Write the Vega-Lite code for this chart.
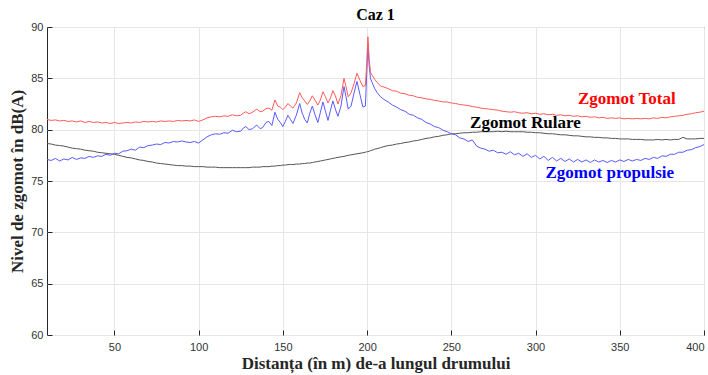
{
  "$schema": "https://vega.github.io/schema/vega-lite/v6.json",
  "width": 657,
  "height": 308,
  "autosize": {"type": "none"},
  "padding": {"left": 47, "top": 27, "right": 4, "bottom": 40},
  "background": "white",
  "config": {
    "view": {"stroke": "#262626", "strokeWidth": 1},
    "axis": {
      "gridColor": "#e6e6e6", "gridWidth": 1, "domain": false,
      "labelFont": "Liberation Sans", "labelFontSize": 11, "labelColor": "#333333",
      "tickColor": "#262626", "tickSize": -5,
      "titleFont": "Liberation Serif", "titleFontSize": 17, "titleFontWeight": "bold", "titleColor": "#262626"
    }
  },
  "title": {"text": "Caz 1", "font": "Liberation Serif", "fontSize": 16, "fontWeight": "bold", "color": "#000000", "offset": -2},
  "datasets": {
    "curves": [
      {"x": 10, "total": 81.0, "rulare": 78.65, "propulsie": 77.1},
      {"x": 12.5, "total": 80.9, "rulare": 78.6, "propulsie": 77.0},
      {"x": 15, "total": 80.95, "rulare": 78.5, "propulsie": 77.2},
      {"x": 17.5, "total": 80.85, "rulare": 78.45, "propulsie": 76.95},
      {"x": 20, "total": 80.9, "rulare": 78.4, "propulsie": 77.15},
      {"x": 22.5, "total": 80.8, "rulare": 78.3, "propulsie": 77.05},
      {"x": 25, "total": 80.85, "rulare": 78.2, "propulsie": 77.3},
      {"x": 27.5, "total": 80.75, "rulare": 78.15, "propulsie": 77.1},
      {"x": 30, "total": 80.85, "rulare": 78.1, "propulsie": 77.25},
      {"x": 32.5, "total": 80.7, "rulare": 78.0, "propulsie": 77.2},
      {"x": 35, "total": 80.8, "rulare": 77.95, "propulsie": 77.4},
      {"x": 37.5, "total": 80.7, "rulare": 77.9, "propulsie": 77.3},
      {"x": 40, "total": 80.75, "rulare": 77.8, "propulsie": 77.45},
      {"x": 42.5, "total": 80.65, "rulare": 77.75, "propulsie": 77.4},
      {"x": 45, "total": 80.7, "rulare": 77.7, "propulsie": 77.6},
      {"x": 47.5, "total": 80.6, "rulare": 77.65, "propulsie": 77.5},
      {"x": 50, "total": 80.7, "rulare": 77.6, "propulsie": 77.7},
      {"x": 52.5, "total": 80.6, "rulare": 77.5, "propulsie": 77.65},
      {"x": 55, "total": 80.65, "rulare": 77.4, "propulsie": 77.9},
      {"x": 57.5, "total": 80.7, "rulare": 77.3, "propulsie": 77.95},
      {"x": 60, "total": 80.65, "rulare": 77.25, "propulsie": 78.1},
      {"x": 62.5, "total": 80.75, "rulare": 77.15, "propulsie": 78.0},
      {"x": 65, "total": 80.7, "rulare": 77.05, "propulsie": 78.3},
      {"x": 67.5, "total": 80.8, "rulare": 77.0, "propulsie": 78.25},
      {"x": 70, "total": 80.75, "rulare": 76.9, "propulsie": 78.45},
      {"x": 72.5, "total": 80.8, "rulare": 76.85, "propulsie": 78.5},
      {"x": 75, "total": 80.75, "rulare": 76.75, "propulsie": 78.6},
      {"x": 77.5, "total": 80.85, "rulare": 76.7, "propulsie": 78.55},
      {"x": 80, "total": 80.8, "rulare": 76.65, "propulsie": 78.75},
      {"x": 82.5, "total": 80.85, "rulare": 76.6, "propulsie": 78.7},
      {"x": 85, "total": 80.8, "rulare": 76.55, "propulsie": 78.85},
      {"x": 87.5, "total": 80.9, "rulare": 76.5, "propulsie": 78.8},
      {"x": 90, "total": 80.85, "rulare": 76.5, "propulsie": 78.9},
      {"x": 92.5, "total": 80.9, "rulare": 76.45, "propulsie": 78.8},
      {"x": 95, "total": 80.85, "rulare": 76.45, "propulsie": 78.75},
      {"x": 97.5, "total": 80.95, "rulare": 76.4, "propulsie": 78.85},
      {"x": 100, "total": 80.8, "rulare": 76.4, "propulsie": 78.7},
      {"x": 102.5, "total": 80.95, "rulare": 76.4, "propulsie": 79.0},
      {"x": 105, "total": 81.15, "rulare": 76.35, "propulsie": 79.3},
      {"x": 107.5, "total": 81.25, "rulare": 76.35, "propulsie": 79.5},
      {"x": 110, "total": 81.3, "rulare": 76.35, "propulsie": 79.6},
      {"x": 112.5, "total": 81.25, "rulare": 76.3, "propulsie": 79.55},
      {"x": 115, "total": 81.35, "rulare": 76.3, "propulsie": 79.7},
      {"x": 117.5, "total": 81.3, "rulare": 76.3, "propulsie": 79.65},
      {"x": 120, "total": 81.45, "rulare": 76.3, "propulsie": 79.95},
      {"x": 122.5, "total": 81.35, "rulare": 76.3, "propulsie": 79.8},
      {"x": 125, "total": 81.4, "rulare": 76.3, "propulsie": 79.85},
      {"x": 126.5, "total": 81.6, "rulare": 76.3, "propulsie": 80.15},
      {"x": 128, "total": 81.75, "rulare": 76.3, "propulsie": 80.3},
      {"x": 130, "total": 81.55, "rulare": 76.3, "propulsie": 80.0},
      {"x": 132, "total": 81.7, "rulare": 76.35, "propulsie": 80.1},
      {"x": 134.5, "total": 82.0, "rulare": 76.35, "propulsie": 80.45},
      {"x": 136.5, "total": 81.75, "rulare": 76.35, "propulsie": 80.1},
      {"x": 138, "total": 81.8, "rulare": 76.4, "propulsie": 80.2},
      {"x": 140, "total": 82.05, "rulare": 76.4, "propulsie": 80.7},
      {"x": 141.7, "total": 82.1, "rulare": 76.4, "propulsie": 80.8},
      {"x": 143.5, "total": 81.9, "rulare": 76.45, "propulsie": 80.4},
      {"x": 145.3, "total": 82.9, "rulare": 76.45, "propulsie": 81.7},
      {"x": 147, "total": 82.3, "rulare": 76.5, "propulsie": 81.0},
      {"x": 148.5, "total": 82.2, "rulare": 76.5, "propulsie": 80.7},
      {"x": 150, "total": 81.95, "rulare": 76.55, "propulsie": 80.3},
      {"x": 151.5, "total": 82.2, "rulare": 76.55, "propulsie": 80.8},
      {"x": 153, "total": 82.55, "rulare": 76.6, "propulsie": 81.4},
      {"x": 154.5, "total": 82.3, "rulare": 76.6, "propulsie": 81.0},
      {"x": 156, "total": 82.1, "rulare": 76.6, "propulsie": 80.6},
      {"x": 158, "total": 82.6, "rulare": 76.65, "propulsie": 81.4},
      {"x": 160, "total": 83.6, "rulare": 76.65, "propulsie": 82.55},
      {"x": 161.5, "total": 83.1, "rulare": 76.7, "propulsie": 81.6},
      {"x": 163, "total": 82.8, "rulare": 76.7, "propulsie": 81.0},
      {"x": 164.5, "total": 82.45, "rulare": 76.75, "propulsie": 80.65},
      {"x": 166, "total": 82.8, "rulare": 76.75, "propulsie": 81.6},
      {"x": 167.5, "total": 83.3, "rulare": 76.8, "propulsie": 82.3},
      {"x": 169, "total": 82.9, "rulare": 76.85, "propulsie": 81.5},
      {"x": 170.8, "total": 82.4, "rulare": 76.9, "propulsie": 80.7},
      {"x": 172.3, "total": 82.9, "rulare": 76.95, "propulsie": 81.7},
      {"x": 173.8, "total": 83.7, "rulare": 77.0, "propulsie": 82.7},
      {"x": 175.3, "total": 83.2, "rulare": 77.05, "propulsie": 81.8},
      {"x": 176.8, "total": 82.6, "rulare": 77.1, "propulsie": 80.9},
      {"x": 178.3, "total": 83.1, "rulare": 77.15, "propulsie": 81.9},
      {"x": 179.7, "total": 83.8, "rulare": 77.2, "propulsie": 82.8},
      {"x": 181.2, "total": 83.3, "rulare": 77.25, "propulsie": 82.0},
      {"x": 182.7, "total": 82.5, "rulare": 77.3, "propulsie": 81.3},
      {"x": 184.5, "total": 83.3, "rulare": 77.35, "propulsie": 82.3},
      {"x": 186.3, "total": 85.0, "rulare": 77.4, "propulsie": 84.2},
      {"x": 187.5, "total": 84.2, "rulare": 77.45, "propulsie": 83.2},
      {"x": 188.8, "total": 83.2, "rulare": 77.5, "propulsie": 82.0},
      {"x": 190.5, "total": 83.6, "rulare": 77.55, "propulsie": 82.3},
      {"x": 192.3, "total": 84.5, "rulare": 77.6, "propulsie": 83.6},
      {"x": 194, "total": 85.5, "rulare": 77.65, "propulsie": 84.7},
      {"x": 195.8, "total": 84.8, "rulare": 77.7, "propulsie": 83.4},
      {"x": 197.5, "total": 84.2, "rulare": 77.75, "propulsie": 82.2},
      {"x": 199, "total": 84.3, "rulare": 77.8, "propulsie": 82.3},
      {"x": 199.8, "total": 86.5, "rulare": 77.85, "propulsie": 85.5},
      {"x": 200.5, "total": 89.05, "rulare": 77.85, "propulsie": 88.4},
      {"x": 201.2, "total": 87.0, "rulare": 77.9, "propulsie": 86.3},
      {"x": 202, "total": 85.6, "rulare": 77.95, "propulsie": 85.0},
      {"x": 203, "total": 85.3, "rulare": 78.0, "propulsie": 84.6},
      {"x": 204.5, "total": 84.9, "rulare": 78.1, "propulsie": 84.0},
      {"x": 206, "total": 84.6, "rulare": 78.15, "propulsie": 83.6},
      {"x": 208, "total": 84.25, "rulare": 78.25, "propulsie": 83.2},
      {"x": 210, "total": 84.15, "rulare": 78.35, "propulsie": 82.95},
      {"x": 212.5, "total": 84.0, "rulare": 78.45, "propulsie": 82.7},
      {"x": 215, "total": 83.8, "rulare": 78.5, "propulsie": 82.4},
      {"x": 217.5, "total": 83.75, "rulare": 78.6, "propulsie": 82.2},
      {"x": 220, "total": 83.55, "rulare": 78.65, "propulsie": 81.95},
      {"x": 222.5, "total": 83.5, "rulare": 78.75, "propulsie": 81.8},
      {"x": 225, "total": 83.35, "rulare": 78.8, "propulsie": 81.5},
      {"x": 227.5, "total": 83.3, "rulare": 78.9, "propulsie": 81.4},
      {"x": 230, "total": 83.15, "rulare": 78.95, "propulsie": 81.15},
      {"x": 232.5, "total": 83.1, "rulare": 79.05, "propulsie": 81.0},
      {"x": 235, "total": 83.0, "rulare": 79.15, "propulsie": 80.7},
      {"x": 237.5, "total": 82.95, "rulare": 79.2, "propulsie": 80.55},
      {"x": 240, "total": 82.85, "rulare": 79.3, "propulsie": 80.3},
      {"x": 242.5, "total": 82.8, "rulare": 79.35, "propulsie": 80.2},
      {"x": 245, "total": 82.7, "rulare": 79.45, "propulsie": 79.95},
      {"x": 247.5, "total": 82.7, "rulare": 79.5, "propulsie": 79.8},
      {"x": 250, "total": 82.6, "rulare": 79.6, "propulsie": 79.6},
      {"x": 252.5, "total": 82.55, "rulare": 79.6, "propulsie": 79.5},
      {"x": 255, "total": 82.45, "rulare": 79.65, "propulsie": 79.2},
      {"x": 257.5, "total": 82.4, "rulare": 79.7, "propulsie": 79.1},
      {"x": 260, "total": 82.35, "rulare": 79.7, "propulsie": 78.85},
      {"x": 262.5, "total": 82.25, "rulare": 79.75, "propulsie": 79.0},
      {"x": 265, "total": 82.2, "rulare": 79.75, "propulsie": 78.4},
      {"x": 267.5, "total": 82.1, "rulare": 79.8, "propulsie": 78.2},
      {"x": 270, "total": 82.05, "rulare": 79.8, "propulsie": 78.1},
      {"x": 272.5, "total": 82.0, "rulare": 79.8, "propulsie": 77.9},
      {"x": 275, "total": 81.95, "rulare": 79.8, "propulsie": 78.0},
      {"x": 277.5, "total": 81.9, "rulare": 79.85, "propulsie": 77.75},
      {"x": 280, "total": 81.8, "rulare": 79.8, "propulsie": 77.8},
      {"x": 282.5, "total": 81.75, "rulare": 79.85, "propulsie": 77.6},
      {"x": 285, "total": 81.7, "rulare": 79.8, "propulsie": 77.85},
      {"x": 287.5, "total": 81.75, "rulare": 79.8, "propulsie": 77.55},
      {"x": 290, "total": 81.65, "rulare": 79.8, "propulsie": 77.7},
      {"x": 292.5, "total": 81.6, "rulare": 79.8, "propulsie": 77.4},
      {"x": 295, "total": 81.65, "rulare": 79.75, "propulsie": 77.65},
      {"x": 297.5, "total": 81.55, "rulare": 79.75, "propulsie": 77.3},
      {"x": 300, "total": 81.6, "rulare": 79.7, "propulsie": 77.5},
      {"x": 302.5, "total": 81.5, "rulare": 79.7, "propulsie": 77.15},
      {"x": 305, "total": 81.55, "rulare": 79.65, "propulsie": 77.4},
      {"x": 307.5, "total": 81.45, "rulare": 79.6, "propulsie": 77.0},
      {"x": 310, "total": 81.5, "rulare": 79.6, "propulsie": 77.3},
      {"x": 312.5, "total": 81.4, "rulare": 79.55, "propulsie": 76.95},
      {"x": 315, "total": 81.45, "rulare": 79.5, "propulsie": 77.2},
      {"x": 317.5, "total": 81.35, "rulare": 79.5, "propulsie": 76.9},
      {"x": 320, "total": 81.4, "rulare": 79.45, "propulsie": 77.15},
      {"x": 322.5, "total": 81.3, "rulare": 79.4, "propulsie": 76.85},
      {"x": 325, "total": 81.35, "rulare": 79.4, "propulsie": 77.1},
      {"x": 327.5, "total": 81.25, "rulare": 79.35, "propulsie": 76.85},
      {"x": 330, "total": 81.3, "rulare": 79.3, "propulsie": 77.05},
      {"x": 332.5, "total": 81.2, "rulare": 79.3, "propulsie": 76.8},
      {"x": 335, "total": 81.25, "rulare": 79.25, "propulsie": 77.05},
      {"x": 337.5, "total": 81.15, "rulare": 79.25, "propulsie": 76.85},
      {"x": 340, "total": 81.2, "rulare": 79.2, "propulsie": 77.0},
      {"x": 342.5, "total": 81.1, "rulare": 79.2, "propulsie": 76.8},
      {"x": 345, "total": 81.15, "rulare": 79.15, "propulsie": 77.0},
      {"x": 347.5, "total": 81.1, "rulare": 79.15, "propulsie": 76.85},
      {"x": 350, "total": 81.15, "rulare": 79.1, "propulsie": 77.05},
      {"x": 352.5, "total": 81.05, "rulare": 79.1, "propulsie": 76.9},
      {"x": 355, "total": 81.1, "rulare": 79.1, "propulsie": 77.1},
      {"x": 357.5, "total": 81.05, "rulare": 79.05, "propulsie": 76.95},
      {"x": 360, "total": 81.1, "rulare": 79.05, "propulsie": 77.1},
      {"x": 362.5, "total": 81.05, "rulare": 79.05, "propulsie": 77.0},
      {"x": 365, "total": 81.1, "rulare": 79.0, "propulsie": 77.2},
      {"x": 367.5, "total": 81.05, "rulare": 79.0, "propulsie": 77.1},
      {"x": 370, "total": 81.15, "rulare": 79.0, "propulsie": 77.3},
      {"x": 372.5, "total": 81.1, "rulare": 79.05, "propulsie": 77.2},
      {"x": 375, "total": 81.2, "rulare": 79.0, "propulsie": 77.45},
      {"x": 377.5, "total": 81.15, "rulare": 79.05, "propulsie": 77.4},
      {"x": 380, "total": 81.25, "rulare": 79.0, "propulsie": 77.6},
      {"x": 382.5, "total": 81.3, "rulare": 79.05, "propulsie": 77.6},
      {"x": 385, "total": 81.35, "rulare": 79.05, "propulsie": 77.8},
      {"x": 387.5, "total": 81.4, "rulare": 79.25, "propulsie": 77.8},
      {"x": 390, "total": 81.5, "rulare": 79.1, "propulsie": 78.0},
      {"x": 392.5, "total": 81.55, "rulare": 79.1, "propulsie": 78.05},
      {"x": 395, "total": 81.65, "rulare": 79.1, "propulsie": 78.25},
      {"x": 397.5, "total": 81.7, "rulare": 79.15, "propulsie": 78.35},
      {"x": 400, "total": 81.8, "rulare": 79.15, "propulsie": 78.55}
    ],
    "labels": [
      {"x": 354.2, "y": 82.49, "label": "Zgomot Total", "series": "Total"},
      {"x": 294, "y": 80.13, "label": "Zgomot Rulare", "series": "Rulare"},
      {"x": 344.1, "y": 75.26, "label": "Zgomot propulsie", "series": "Propulsie"}
    ]
  },
  "layer": [
    {
      "data": {"name": "curves"},
      "mark": {"type": "line", "color": "#555555", "strokeWidth": 1, "clip": true},
      "encoding": {
        "x": {"field": "x", "type": "quantitative", "scale": {"domain": [10, 400], "nice": false, "zero": false},
          "axis": {"values": [50, 100, 150, 200, 250, 300, 350, 400], "title": "Distanța (în m) de-a lungul drumului", "labelPadding": 11, "titlePadding": 3}},
        "y": {"field": "rulare", "type": "quantitative", "scale": {"domain": [60, 90], "nice": false, "zero": false},
          "axis": {"values": [60, 65, 70, 75, 80, 85, 90], "title": "Nivel de zgomot în dB(A)", "labelPadding": 9, "titlePadding": 4}}
      }
    },
    {
      "data": {"name": "curves"},
      "mark": {"type": "line", "color": "#5a5aff", "strokeWidth": 1, "clip": true},
      "encoding": {
        "x": {"field": "x", "type": "quantitative"},
        "y": {"field": "propulsie", "type": "quantitative"}
      }
    },
    {
      "data": {"name": "curves"},
      "mark": {"type": "line", "color": "#ff5a5a", "strokeWidth": 1, "clip": true},
      "encoding": {
        "x": {"field": "x", "type": "quantitative"},
        "y": {"field": "total", "type": "quantitative"}
      }
    },
    {
      "data": {"name": "labels"},
      "mark": {"type": "text", "font": "Liberation Serif", "fontSize": 17, "fontWeight": "bold", "align": "center", "baseline": "alphabetic"},
      "encoding": {
        "x": {"field": "x", "type": "quantitative"},
        "y": {"field": "y", "type": "quantitative"},
        "text": {"field": "label"},
        "fill": {"field": "series", "type": "nominal", "legend": null,
          "scale": {"domain": ["Total", "Rulare", "Propulsie"], "range": ["#ff0000", "#000000", "#0000ff"]}}
      }
    }
  ]
}
